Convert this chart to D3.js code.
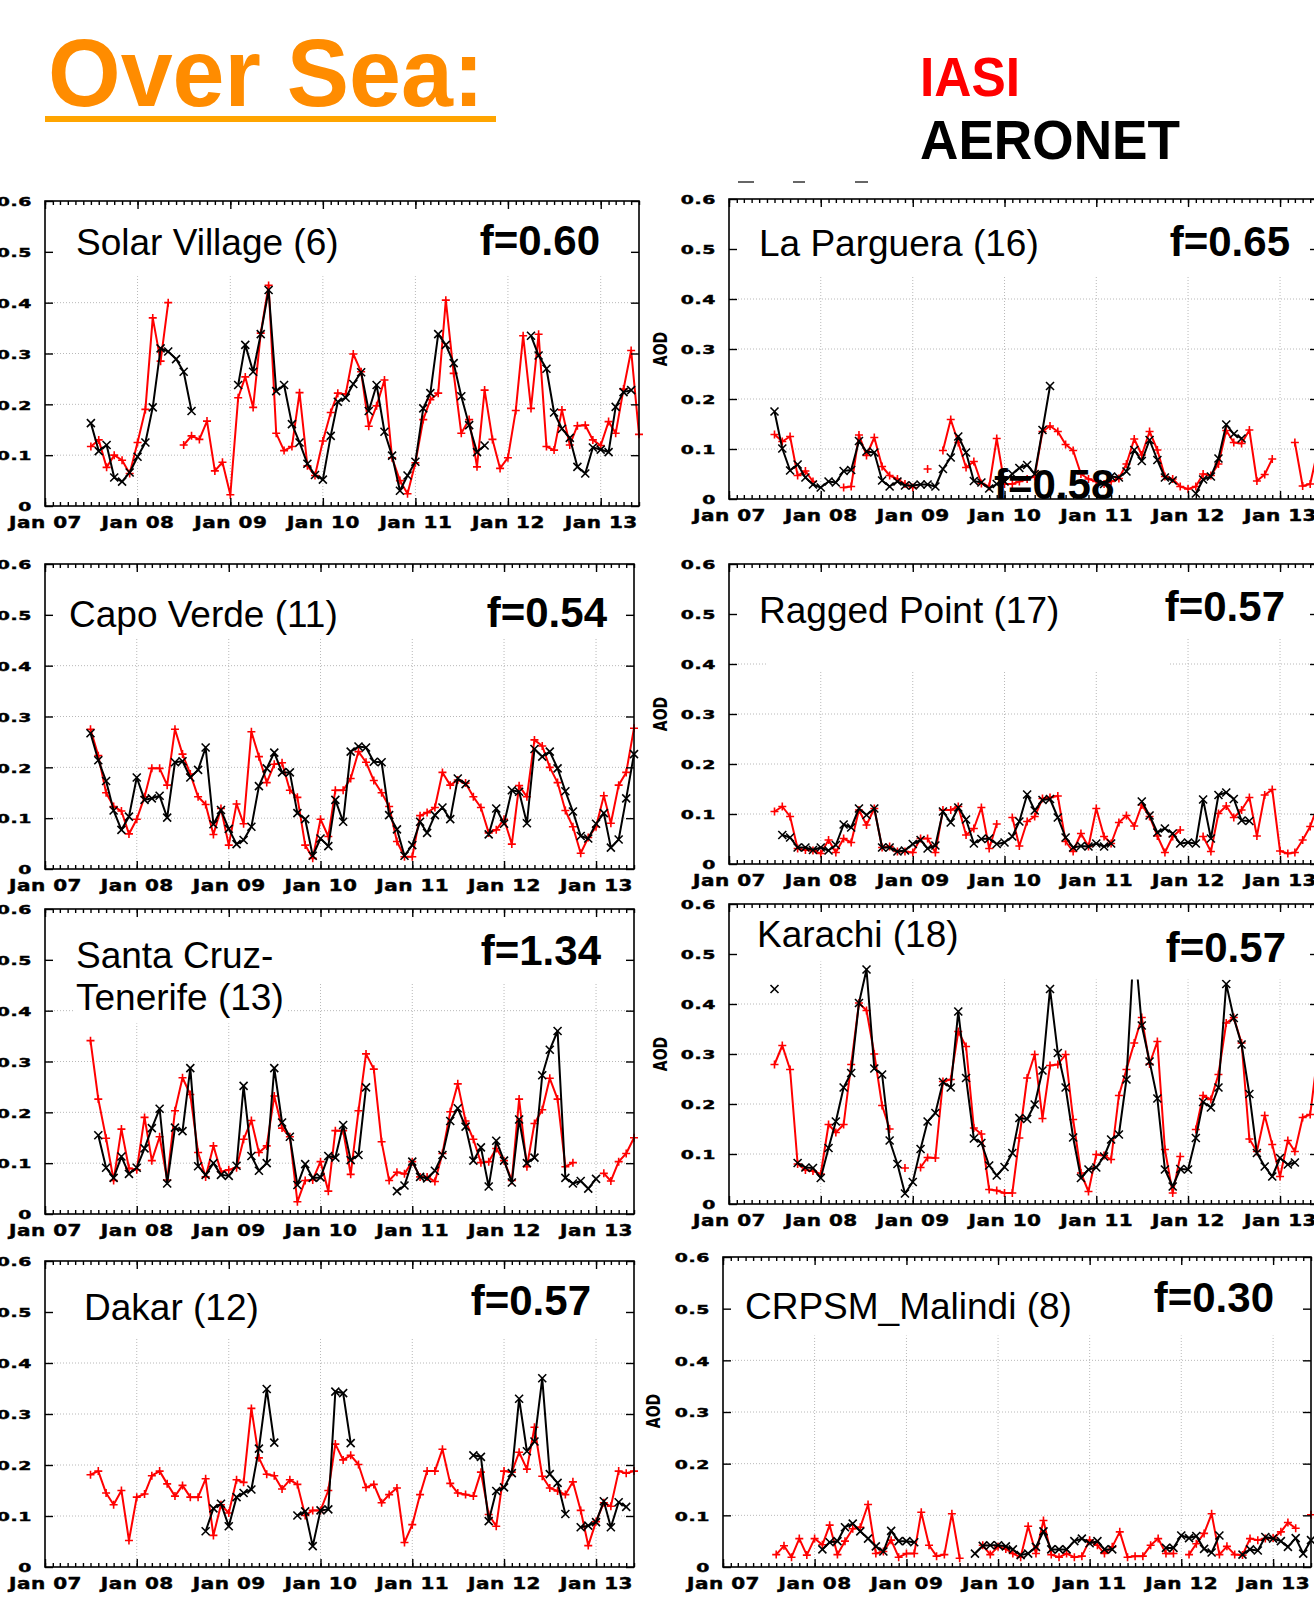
<!DOCTYPE html>
<html>
<head>
<meta charset="utf-8">
<script src="https://cdnjs.cloudflare.com/ajax/libs/d3/7.8.5/d3.min.js"></script>
<style>
  body { margin: 0; background: #fff; }
</style>
</head>
<body>
<script>
// monthly means, Jul 07 .. Jun 13 (one row = Jul..Jun), null = no data
var months = d3.timeMonth.range(new Date(2007, 6, 1), new Date(2013, 6, 1));
var xTickLabels = ["Jan 07", "Jan 08", "Jan 09", "Jan 10", "Jan 11", "Jan 12", "Jan 13"];
var yTicks = [0, 0.1, 0.2, 0.3, 0.4, 0.5, 0.6];

var solarIasi = [
  .117,.13,.076,.10,.09,.064,.125,.19,.37,.285,.40,null,
  .12,.138,.131,.167,.069,.086,.022,.213,.254,.194,.34,.434,
  .143,.109,.117,.223,.079,.06,.128,.184,.222,.22,.299,.264,
  .157,.197,.248,.095,.05,.024,.085,.17,.209,.222,.405,.261,
  .143,.17,.077,.228,.131,.074,.095,.188,.335,.192,.338,.117,
  .11,.189,.12,.158,.159,.13,.119,.166,.143,.23,.306,.141];
var solarAeronet = [
  .163,.108,.12,.056,.048,.066,.097,.125,.194,.31,.304,.289,
  .264,.187,null,null,null,null,null,.238,.317,.264,.338,.425,
  .226,.238,.161,.125,.083,.061,.052,.138,.205,.213,.24,.263,
  .187,.238,.146,.099,.03,.06,.087,.192,.222,.338,.317,.281,
  .216,.159,.106,.119,null,null,null,null,null,.335,.296,.27,
  .184,.152,.134,.077,.064,.115,.111,.106,.195,.224,.228,null];

var pargueraIasi = [
  .129,.115,.125,.047,.056,.035,null,null,null,.023,.025,.128,
  .087,.123,.065,.047,.04,.03,.023,null,.06,null,.097,.159,
  .113,.063,.075,.031,.025,.121,.03,.03,.035,.04,.045,.135,
  .146,.135,.109,.097,.05,.04,.035,.03,.035,.041,.07,.12,
  .088,.135,.098,.045,.04,.025,.02,.025,.05,.047,.07,.137,
  .113,.111,.138,.036,.049,.08,null,null,.113,.026,.03,.1];
var pargueraAeronet = [
  .175,.101,.057,.069,.043,.029,.023,.035,.033,.056,.058,.116,
  .095,.093,.037,.025,.035,.027,.027,.029,.029,.025,.06,.083,
  .125,.093,.036,.033,.021,.03,.035,.05,.062,.068,.05,.138,
  .226,null,null,null,null,null,null,.03,.045,.043,.055,.098,
  .076,.118,.078,.043,.037,null,null,.011,.039,.045,.081,.149,
  .13,.121,null,null,null,null,null,null,null,null,null,null];

var capoIasi = [
  .275,.223,.15,.123,.114,.069,.098,.142,.198,.198,.165,.275,
  .226,.187,.142,.127,.068,.119,.047,.128,.089,.27,.221,.17,
  .206,.209,.155,.141,.047,.021,.098,.064,.155,.155,.178,.231,
  .21,.174,.15,.123,.054,.024,.024,.105,.111,.121,.19,.165,
  .175,.169,.142,.121,.071,.077,.098,.049,.164,.142,.254,.242,
  .2,.17,.115,.083,.031,.062,.083,.144,.09,.165,.19,.277];
var capoAeronet = [
  .267,.214,.173,.115,.077,.103,.18,.136,.139,.144,.101,.21,
  .212,.18,.195,.239,.088,.116,.079,.049,.057,.083,.163,.198,
  .229,.19,.19,.11,.098,.026,.06,.045,.136,.093,.231,.241,
  .239,.211,.21,.106,.078,.026,.047,.093,.071,.106,.121,.098,
  .178,.167,null,null,.068,.119,.089,.155,.152,.09,.236,.221,
  .231,.198,.153,.113,.065,.06,.089,.11,.042,.058,.139,.226];

var raggedIasi = [
  .105,.115,.095,.031,.028,.027,.021,.048,.023,.051,.043,.108,
  .078,.111,.033,.035,.025,.025,.023,.051,.051,.023,.108,.108,
  .115,.058,.071,.113,.031,.08,null,.093,.036,.085,.095,.131,
  .133,.136,.045,.025,.061,.035,.111,.055,.041,.083,.097,.076,
  .118,.095,.056,.023,.055,.068,null,null,.055,.025,.101,.116,
  .093,.108,.133,.056,.138,.149,.026,.021,.023,.048,.075,.118];
var raggedAeronet = [
  null,.058,.053,.033,.033,.028,.033,.027,.038,.079,.073,.111,
  .098,.111,.033,.033,.025,.027,.04,.048,.031,.037,.105,.083,
  .113,.089,.041,.05,.051,.04,.043,.055,.085,.139,.107,.128,
  .13,.093,.053,.033,.036,.035,.041,.035,.041,null,null,null,
  .125,.097,.063,.071,.061,.041,.043,.041,.129,.051,.138,.143,
  .13,.087,.086,null,null,null,null,null,null,null,null,null];

var tenerifeIasi = [
  .341,.226,.149,.066,.167,.09,.087,.19,.105,.152,.067,.203,
  .268,.235,.121,.073,.134,.083,.087,.091,.147,.184,.121,.134,
  .232,.169,.152,.024,.066,.067,.103,.045,.164,.164,.078,.203,
  .315,.285,.142,.066,.082,.079,.103,.073,.073,.064,.119,.201,
  .256,.183,.147,.101,.103,.129,.105,.066,.226,.093,.178,.205,
  .267,.226,.093,.101,null,null,null,.08,.065,.103,.119,.15];
var tenerifeAeronet = [
  null,.155,.091,.071,.113,.079,.091,.129,.169,.207,.06,.17,
  .163,.287,.094,.077,.1,.077,.075,.095,.252,.114,.085,.1,
  .287,.18,.152,.057,.098,.071,.072,.114,.111,.175,.106,.116,
  .249,null,null,null,.045,.056,.103,.073,.07,.085,.116,.183,
  .208,.172,.105,.131,.054,.144,.105,.062,.186,.1,.111,.273,
  .323,.36,.071,.06,.065,.05,.069,null,null,null,null,null];

var karachiIasi = [
  .279,.317,.269,.08,.068,.066,.06,.159,.143,.159,.279,.402,
  .387,.3,.197,.15,null,.072,null,.073,.093,.092,.245,.249,
  .345,.315,.152,.14,.029,.027,.022,.022,.132,.252,.299,.171,
  .277,.279,.299,.169,.062,.025,.099,.097,.089,.217,.269,.322,
  .373,.28,.325,.109,.022,.095,null,.149,.217,.209,.259,.362,
  .373,.322,.13,.105,.177,.119,.055,.127,.105,.173,.179,.305];
var karachiAeronet = [
  .43,null,null,.082,.073,.072,.052,.112,.165,.233,.262,.402,
  .469,.271,.259,.127,.08,.021,.044,.11,.165,.182,.244,.233,
  .385,.252,.131,.122,.077,.057,.074,.102,.172,.17,.199,.267,
  .43,.302,.233,.133,.052,.069,.073,.095,.129,.139,.249,.53,
  .357,.285,.211,.069,.035,.07,.069,.132,.204,.193,.233,.44,
  .372,.319,.22,.102,.075,.055,.092,.079,.083,null,null,null];

var dakarIasi = [
  .181,.188,.145,.122,.15,.052,.137,.143,.179,.188,.163,.139,
  .16,.137,.137,.173,.062,.122,.106,.171,.166,.311,.214,.182,
  .179,.153,.171,.162,.101,.111,.111,.15,.241,.21,.219,.201,
  .156,.162,.126,.142,.155,.048,.083,.142,.188,.188,.231,.164,
  .145,.142,.139,.186,.103,.08,.188,.186,.225,.192,.274,.178,
  .155,.149,.142,.167,.111,.042,.089,.126,.119,.188,.184,.188];
var dakarAeronet = [
  null,null,null,null,null,null,null,null,null,null,null,null,
  null,null,null,.07,.115,.124,.08,.137,.145,.152,.232,.349,
  .244,null,null,.101,.109,.041,.111,.113,.344,.341,.243,null,
  null,null,null,null,null,null,null,null,null,null,null,null,
  null,null,.219,.216,.09,.149,.156,.184,.33,.227,.246,.37,
  .182,.165,.104,null,.078,.081,.088,.129,.078,.127,.118,null];

var malindiIasi = [
  null,.024,.041,.019,.055,.023,.055,.043,.081,.024,.05,.074,
  .077,.121,.026,.03,.052,.019,.026,.026,.106,.042,.021,.024,
  .103,.017,null,null,.042,.024,.039,.035,.026,.019,.079,.026,
  .09,.024,.019,.026,.019,.021,.052,.042,.026,.039,.068,.019,
  .021,.021,.042,.055,.026,.026,null,.024,.045,.065,.103,.024,
  .04,.024,.023,.055,.052,.055,.056,.068,.086,.075,null,.101];
var malindiAeronet = [
  null,null,null,null,null,null,null,.034,.048,.05,.077,.084,
  .069,.055,.04,.03,.07,.05,.05,.048,null,null,null,null,
  null,null,null,.026,.041,.042,.042,.04,.034,.023,.026,.039,
  .069,.034,.034,.034,.05,.055,.046,.05,.034,.034,null,null,
  null,null,null,null,.037,.037,.061,.056,.06,.035,.028,.061,
  null,null,.024,.034,.032,.058,.055,.05,.039,.056,.026,.052];

// layout of the eight panels (page pixels)
var panels = [
  {name: ["Solar Village (6)"], f: "f=0.60", iasi: solarIasi, aeronet: solarAeronet,
   left: 45, right: 639, top: 201, bottom: 506, nameX: 76, nameY: [255], fX: 600, fY: 255,
   masks: [[2, 592, 0.452]]},
  {name: ["La Parguera (16)"], f: "f=0.65", iasi: pargueraIasi, aeronet: pargueraAeronet,
   left: 729, right: 1318, top: 199, bottom: 499, nameX: 759, nameY: [256], fX: 1290, fY: 256,
   masks: [[2, 588, 0.448]], aod: [660, 349]},
  {name: ["Capo Verde (11)"], f: "f=0.54", iasi: capoIasi, aeronet: capoAeronet,
   left: 45, right: 634, top: 564, bottom: 869, nameX: 69, nameY: [627], fX: 607, fY: 627,
   masks: [[2, 587, 0.455]]},
  {name: ["Ragged Point (17)"], f: "f=0.57", iasi: raggedIasi, aeronet: raggedAeronet,
   left: 729, right: 1318, top: 564, bottom: 864, nameX: 759, nameY: [623], fX: 1285, fY: 621,
   masks: [[2, 38, 0.45], [38, 440, 0.385], [440, 588, 0.45]], aod: [660, 714]},
  {name: ["Santa Cruz-", "Tenerife (13)"], f: "f=1.34", iasi: tenerifeIasi, aeronet: tenerifeAeronet,
   left: 45, right: 634, top: 909, bottom: 1214, nameX: 76, nameY: [968, 1010], fX: 601, fY: 965,
   masks: [[2, 29, 0.45], [29, 243, 0.375], [243, 587, 0.455]]},
  {name: ["Karachi (18)"], f: "f=0.57", iasi: karachiIasi, aeronet: karachiAeronet,
   left: 729, right: 1318, top: 904, bottom: 1204, nameX: 757, nameY: [947], fX: 1286, fY: 962,
   masks: [[2, 160, 0.485], [160, 588, 0.449]], aod: [660, 1054]},
  {name: ["Dakar (12)"], f: "f=0.57", iasi: dakarIasi, aeronet: dakarAeronet,
   left: 45, right: 634, top: 1261, bottom: 1567, nameX: 84, nameY: [1320], fX: 591, fY: 1315,
   masks: [[2, 587, 0.45]]},
  {name: ["CRPSM_Malindi (8)"], f: "f=0.30", iasi: malindiIasi, aeronet: malindiAeronet,
   left: 723, right: 1311, top: 1257, bottom: 1567, nameX: 745, nameY: [1319], fX: 1274, fY: 1312,
   masks: [[2, 586, 0.448]], aod: [653, 1411]}
];

var parseTick = d3.timeParse("%b %y");
var xTickDates = xTickLabels.map(function(l) { return parseTick(l); });
var xDomain = [new Date(2007, 0, 1), new Date(2013, 5, 1)];
var sansFont = "'Liberation Sans', Arial, sans-serif";
var tickFont = "'DejaVu Sans', Verdana, sans-serif";

var svg = d3.select("body").append("svg")
    .attr("width", 1314).attr("height", 1606);

// headline
svg.append("text").attr("x", 48).attr("y", 106)
    .attr("textLength", 436).attr("lengthAdjust", "spacingAndGlyphs")
    .style("font", "bold 96px " + sansFont).attr("fill", "#ff8c00").text("Over Sea:");
svg.append("rect").attr("x", 45).attr("y", 116).attr("width", 451).attr("height", 6).attr("fill", "#ffa500");
svg.append("text").attr("x", 920).attr("y", 96)
    .attr("textLength", 100).attr("lengthAdjust", "spacingAndGlyphs")
    .style("font", "bold 55px " + sansFont).attr("fill", "#ff0000").text("IASI");
svg.append("text").attr("x", 920).attr("y", 159)
    .attr("textLength", 260).attr("lengthAdjust", "spacingAndGlyphs")
    .style("font", "bold 55px " + sansFont).attr("fill", "#000").text("AERONET");
[[738, 16], [793, 12], [855, 13]].forEach(function(d) {
    svg.append("rect").attr("x", d[0]).attr("y", 181).attr("width", d[1]).attr("height", 2).attr("fill", "#666");
});

function styleTickText(sel, size, sx) {
    sel.style("font", "bold " + size + "px " + tickFont).style("letter-spacing", "0.4px")
        .attr("fill", "#000").attr("stroke", "#000").attr("stroke-width", 0.45);
}

function drawPanel(p, idx) {
    var x = d3.scaleTime().domain(xDomain).range([p.left, p.right]);
    var y = d3.scaleLinear().domain([0, 0.6]).range([p.bottom, p.top]);
    var g = svg.append("g");

    // dotted grid
    g.selectAll(".hg").data(yTicks.slice(1, -1)).enter().append("line")
        .attr("x1", p.left).attr("x2", p.right)
        .attr("y1", function(d) { return y(d); }).attr("y2", function(d) { return y(d); })
        .attr("stroke", "#b8b8b8").attr("stroke-width", 1).attr("stroke-dasharray", "1,2");
    g.selectAll(".vg").data(xTickDates.slice(1)).enter().append("line")
        .attr("x1", function(d) { return x(d); }).attr("x2", function(d) { return x(d); })
        .attr("y1", p.top).attr("y2", p.bottom)
        .attr("stroke", "#b8b8b8").attr("stroke-width", 1).attr("stroke-dasharray", "1,2");

    var clipId = "clip" + idx;
    svg.append("clipPath").attr("id", clipId).append("rect")
        .attr("x", p.left - 6).attr("y", p.top).attr("width", p.right - p.left + 12).attr("height", p.bottom - p.top + 6);
    var data = g.append("g").attr("clip-path", "url(#" + clipId + ")");

    var line = d3.line()
        .defined(function(d) { return d.v != null; })
        .x(function(d) { return x(d.date); })
        .y(function(d) { return y(d.v); });

    [{vals: p.iasi, color: "#ff0000", mark: "plus"}, {vals: p.aeronet, color: "#000", mark: "cross"}].forEach(function(s) {
        var pts = s.vals.map(function(v, i) { return {date: months[i], v: v}; });
        data.append("path").datum(pts).attr("d", line)
            .attr("fill", "none").attr("stroke", s.color).attr("stroke-width", 2).attr("stroke-linejoin", "round");
        var r = 4;
        data.selectAll(null).data(pts.filter(function(d) { return d.v != null; })).enter().append("path")
            .attr("transform", function(d) { return "translate(" + x(d.date) + "," + y(d.v) + ")"; })
            .attr("d", s.mark === "plus"
                ? "M" + (-r) + ",0H" + r + "M0," + (-r) + "V" + r
                : "M" + (-r) + "," + (-r) + "L" + r + "," + r + "M" + (-r) + "," + r + "L" + r + "," + (-r))
            .attr("stroke", s.color).attr("stroke-width", 1.6).attr("fill", "none");
    });

    // white boxes behind the station labels
    p.masks.forEach(function(m) {
        g.append("rect").attr("x", p.left + m[0]).attr("y", p.top + 1)
            .attr("width", m[1] - m[0]).attr("height", y(m[2]) - p.top - 1).attr("fill", "#fff");
    });

    // ticks, all pointing inward
    var bottomAxis = d3.axisBottom(x).tickValues(xTickDates).tickSize(-8).tickPadding(12)
        .tickFormat(function(d, i) { return xTickLabels[i]; });
    var gb = g.append("g").attr("transform", "translate(0," + p.bottom + ")").call(bottomAxis);
    g.append("g").attr("transform", "translate(0," + p.bottom + ")")
        .call(d3.axisBottom(x).ticks(d3.timeMonth.every(1)).tickSize(-4).tickFormat(""));
    g.append("g").attr("transform", "translate(0," + p.top + ")")
        .call(d3.axisTop(x).tickValues(xTickDates).tickSize(-8).tickFormat(""));
    g.append("g").attr("transform", "translate(0," + p.top + ")")
        .call(d3.axisTop(x).ticks(d3.timeMonth.every(1)).tickSize(-4).tickFormat(""));
    var gl = g.append("g").attr("transform", "translate(" + p.left + ",0)")
        .call(d3.axisLeft(y).tickValues(yTicks).tickSize(-8).tickPadding(13)
            .tickFormat(function(d) { return d === 0 ? "0" : d3.format(".1f")(d); }));
    g.append("g").attr("transform", "translate(" + p.right + ",0)")
        .call(d3.axisRight(y).tickValues(yTicks).tickSize(-8).tickFormat(""));

    g.selectAll(".domain").remove();
    g.selectAll(".tick line").attr("stroke", "#000").attr("stroke-width", 1.4);

    // the figure is stretched sideways, so the tick labels are too
    gb.selectAll("text").attr("dy", null).attr("y", null)
        .attr("transform", "translate(0,22) scale(1.25,1)")
        .call(styleTickText, 16);
    gl.selectAll("text").attr("x", null).attr("dy", "0.36em")
        .attr("transform", "translate(-13,0) scale(1.45,1)")
        .call(styleTickText, 13);

    g.append("rect").attr("x", p.left).attr("y", p.top)
        .attr("width", p.right - p.left).attr("height", p.bottom - p.top)
        .attr("fill", "none").attr("stroke", "#000").attr("stroke-width", 1.6);

    // station label and scale factor
    p.name.forEach(function(t, i) {
        g.append("text").attr("x", p.nameX).attr("y", p.nameY[i])
            .style("font", "37px " + sansFont).attr("fill", "#000").text(t);
    });
    g.append("text").attr("x", p.fX).attr("y", p.fY).attr("text-anchor", "end")
        .style("font", "bold 42px " + sansFont).attr("fill", "#000").text(p.f);

    if (p.aod) {
        g.append("text")
            .attr("transform", "translate(" + p.aod[0] + "," + p.aod[1] + ") scale(1.35,1) rotate(-90)")
            .attr("text-anchor", "middle").attr("dy", "0.36em")
            .style("font", "bold 14px " + tickFont).attr("fill", "#000").text("AOD");
    }
}

panels.forEach(drawPanel);

// stray label left over on the La Parguera panel
svg.append("text").attr("x", 994).attr("y", 499)
    .style("font", "bold 42px " + sansFont).attr("fill", "#000").text("f=0.58");
</script>
</body>
</html>
